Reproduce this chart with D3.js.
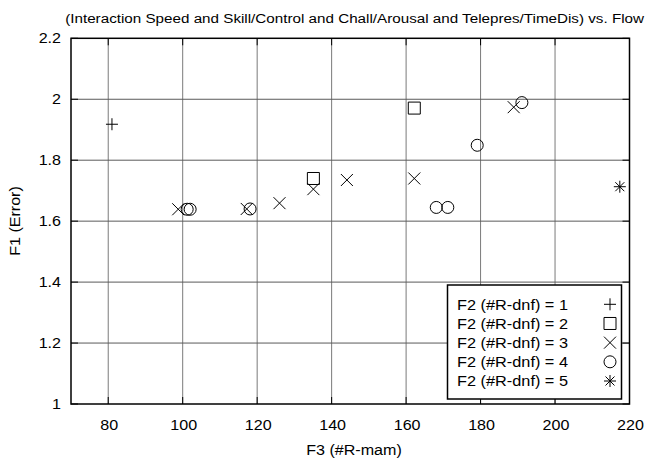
<!DOCTYPE html>
<html>
<head>
<meta charset="utf-8">
<script src="https://cdn.jsdelivr.net/npm/d3@7"></script>
<style>
  body { margin: 0; background: #fff; }
  svg text { font-family: "Liberation Sans", Arial, sans-serif; fill: #000; }
</style>
</head>
<body>
<svg id="chart" width="661" height="460"></svg>
<script>
// values
const xTicks = [80, 100, 120, 140, 160, 180, 200, 220];
const yTicks = [1, 1.2, 1.4, 1.6, 1.8, 2, 2.2];

const seriesNames = ["F2 (#R-dnf) = 1", "F2 (#R-dnf) = 2", "F2 (#R-dnf) = 3", "F2 (#R-dnf) = 4", "F2 (#R-dnf) = 5"];
const seriesShapes = ["plus", "square", "cross", "circle", "star"];

const s1x = [81];
const s1y = [1.918];
const s2x = [135.1, 162.2];
const s2y = [1.740, 1.971];
const s3x = [98.8, 117.2, 126.0, 135.1, 144.1, 162.2, 188.9];
const s3y = [1.639, 1.640, 1.659, 1.705, 1.735, 1.740, 1.974];
const s4x = [101.2, 102.0, 118.1, 168.1, 171.2, 179.1, 191.1];
const s4y = [1.639, 1.639, 1.640, 1.645, 1.645, 1.849, 1.989];
const s5x = [217.4];
const s5y = [1.713];

const seriesX = [s1x, s2x, s3x, s4x, s5x];
const seriesY = [s1y, s2y, s3y, s4y, s5y];

const svg = d3.select("#chart");
const margin = { left: 71, right: 31.5, top: 38.3, bottom: 56 };
const W = 661, H = 460;
const stretch = 1.11; // reference glyphs are a bit wider than Liberation Sans

const x = d3.scaleLinear().domain([70, 220]).range([margin.left, W - margin.right]);
const y = d3.scaleLinear().domain([1, 2.2]).range([H - margin.bottom, margin.top]);

// marker path around (0,0), r = half size
function marker(shape, r) {
    const p = d3.path();
    if (shape === "plus" || shape === "star") {
        p.moveTo(-r, 0); p.lineTo(r, 0);
        p.moveTo(0, -r); p.lineTo(0, r);
    }
    if (shape === "cross" || shape === "star") {
        const k = shape === "star" ? r * 0.75 : r;
        p.moveTo(-k, -k); p.lineTo(k, k);
        p.moveTo(-k, k); p.lineTo(k, -k);
    }
    if (shape === "square") {
        p.rect(-r, -r, 2 * r, 2 * r);
    }
    if (shape === "circle") {
        p.moveTo(r, 0);
        p.arc(0, 0, r, 0, 2 * Math.PI);
    }
    return p.toString();
}

// text placed at (tx,ty), widened a little
function label(g, tx, ty, txt, size, anchor, rot) {
    return g.append("text")
        .attr("transform", `translate(${tx},${ty})${rot ? ` rotate(${rot})` : ""} scale(${stretch},1)`)
        .attr("text-anchor", anchor || "start")
        .attr("font-size", size)
        .text(txt);
}

// grid
svg.append("g")
    .selectAll("line.vgrid")
    .data(xTicks.slice(0, -1))
    .enter().append("line")
    .attr("x1", d => x(d)).attr("x2", d => x(d))
    .attr("y1", y(1)).attr("y2", y(2.2))
    .attr("stroke", "#7a7a7a").attr("stroke-width", 1);

svg.append("g")
    .selectAll("line.hgrid")
    .data(yTicks.slice(1, -1))
    .enter().append("line")
    .attr("x1", x(70)).attr("x2", x(220))
    .attr("y1", d => y(d)).attr("y2", d => y(d))
    .attr("stroke", "#5a5a5a").attr("stroke-width", 1);

// inward ticks on all sides
const tickLen = 7;
const tickG = svg.append("g").attr("stroke", "#000").attr("stroke-width", 1);
xTicks.forEach(t => {
    tickG.append("line").attr("x1", x(t)).attr("x2", x(t)).attr("y1", y(1)).attr("y2", y(1) - tickLen);
    tickG.append("line").attr("x1", x(t)).attr("x2", x(t)).attr("y1", y(2.2)).attr("y2", y(2.2) + tickLen);
});
yTicks.forEach(t => {
    tickG.append("line").attr("x1", x(70)).attr("x2", x(70) + tickLen).attr("y1", y(t)).attr("y2", y(t));
    tickG.append("line").attr("x1", x(220)).attr("x2", x(220) - tickLen).attr("y1", y(t)).attr("y2", y(t));
});

// frame
svg.append("rect")
    .attr("x", x(70)).attr("y", y(2.2))
    .attr("width", x(220) - x(70)).attr("height", y(1) - y(2.2))
    .attr("fill", "none").attr("stroke", "#000").attr("stroke-width", 1.5);

// tick labels
const xLab = svg.append("g");
xTicks.forEach(t => label(xLab, x(t) + 1, 429.5, t, 14.5, "middle"));
const yLab = svg.append("g");
yTicks.forEach(t => label(yLab, 61, y(t) + 5, d3.format("~g")(t), 14.5, "end"));

// axis titles
label(svg, 354, 455, "F3 (#R-mam)", 14.5, "middle");
label(svg, 20, 221, "F1 (Error)", 14.5, "middle", -90);
label(svg, 644, 22.5, "(Interaction Speed and Skill/Control and Chall/Arousal and Telepres/TimeDis) vs. Flow", 13.7, "end");

// points
seriesX.forEach((xs, i) => {
    svg.append("g")
        .selectAll("path")
        .data(xs.map((v, j) => [v, seriesY[i][j]]))
        .enter().append("path")
        .attr("transform", d => `translate(${x(d[0])},${y(d[1])})`)
        .attr("d", marker(seriesShapes[i], 6))
        .attr("fill", "none")
        .attr("stroke", "#000")
        .attr("stroke-width", 1);
});

// legend
const legend = svg.append("g");
legend.append("rect")
    .attr("x", 447.5).attr("y", 285)
    .attr("width", 174).attr("height", 114)
    .attr("fill", "#fff").attr("stroke", "#000").attr("stroke-width", 1.5);

const rowY = d3.scaleLinear().domain([0, 4]).range([304.3, 381]);
seriesNames.forEach((name, i) => {
    label(legend, 457, rowY(i) + 5.2, name, 14.7);
    legend.append("path")
        .attr("transform", `translate(610,${rowY(i)})`)
        .attr("d", marker(seriesShapes[i], 6))
        .attr("fill", "none").attr("stroke", "#000").attr("stroke-width", 1);
});
</script>
</body>
</html>
